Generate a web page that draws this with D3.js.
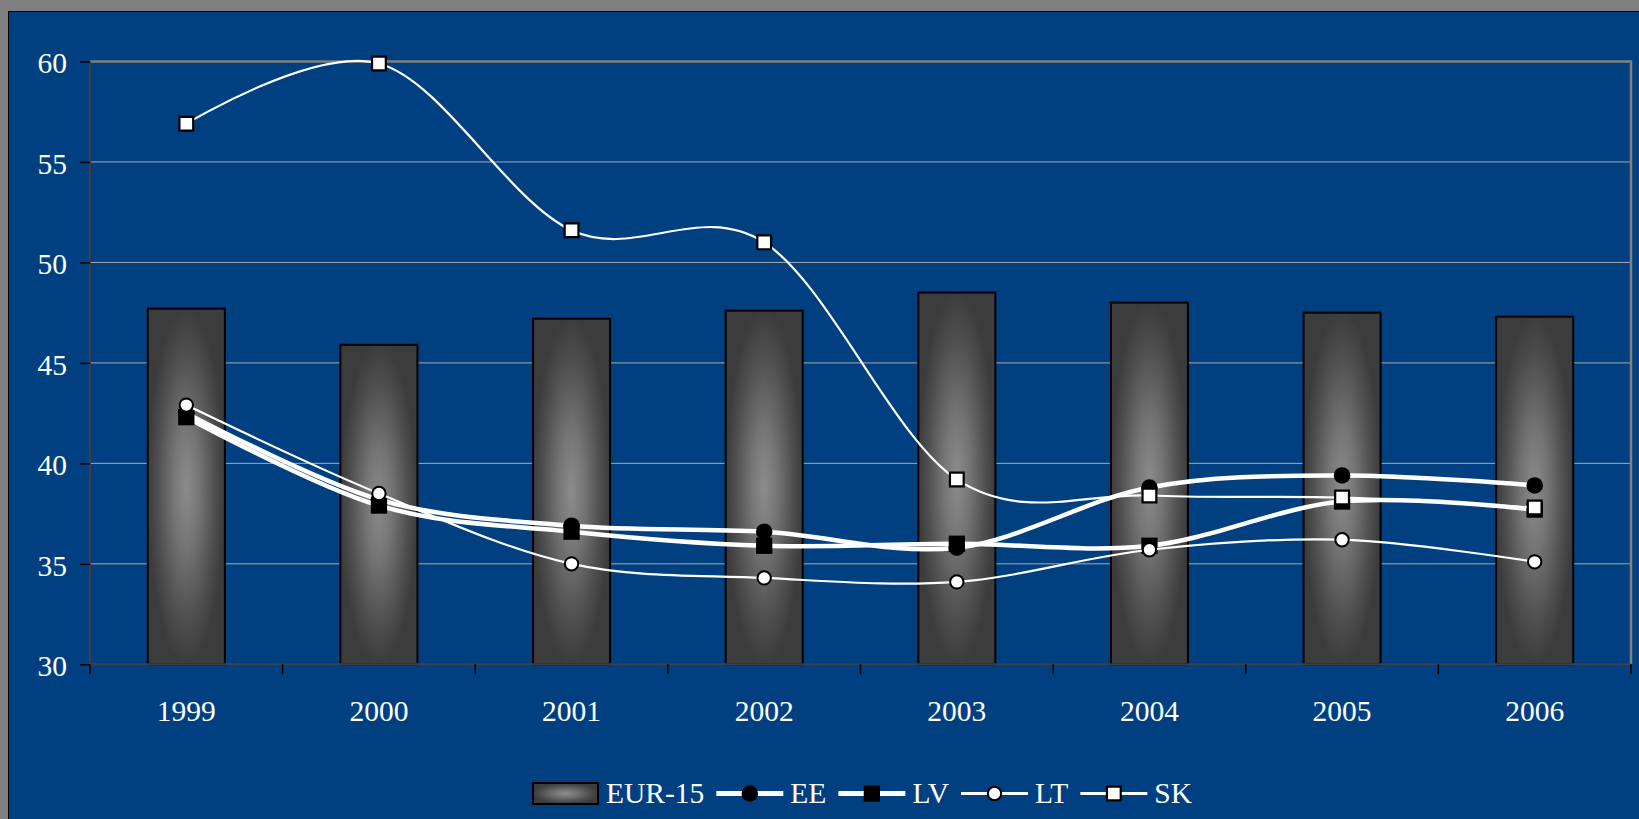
<!DOCTYPE html>
<html>
<head>
<meta charset="utf-8">
<script src="https://cdn.jsdelivr.net/npm/d3@7"></script>
<style>
  html, body { margin: 0; padding: 0; background: #808080; overflow: hidden; }
  text { font-family: "Liberation Serif", "Times New Roman", serif; fill: #fff; }
</style>
</head>
<body>
<svg id="chart" width="1639" height="819"></svg>
<script>
// Years on the category axis
const years = ["1999", "2000", "2001", "2002", "2003", "2004", "2005", "2006"];
// EUR-15 average (bars)
const eur15 = [47.7, 45.9, 47.2, 47.6, 48.5, 48.0, 47.5, 47.3];
// Country series (lines)
const ee = [42.5, 38.2, 36.9, 36.6, 35.8, 38.8, 39.4, 38.9];
const lv = [42.3, 37.9, 36.6, 35.9, 36.0, 35.9, 38.1, 37.7];
const lt = [42.9, 38.5, 35.0, 34.3, 34.1, 35.7, 36.2, 35.1];
const sk = [56.9, 59.9, 51.6, 51.0, 39.2, 38.4, 38.3, 37.8];
// Value axis ticks
const yTicks = [30, 35, 40, 45, 50, 55, 60];

const W = 1639, H = 819;
const FONT = 29.5;
const svg = d3.select("#chart");

// Slide background and blue chart panel
svg.append("rect").attr("width", W).attr("height", H).attr("fill", "#808080");
svg.append("rect")
  .attr("x", 8.5).attr("y", 11.5).attr("width", W).attr("height", H)
  .attr("fill", "#004080").attr("stroke", "#000").attr("stroke-width", 1);

const plot = { left: 90, top: 61.5, right: 1631, bottom: 664.3 };

const x = d3.scaleBand().domain(years)
  .range([plot.left, plot.right])
  .paddingInner(0.6).paddingOuter(0.3);
const y = d3.scaleLinear().domain([30, 60]).range([plot.bottom, plot.top]);

// Bar fill: light centre fading to dark edges
const defs = svg.append("defs");
const rg = defs.append("radialGradient").attr("id", "barShade")
  .attr("cx", 0.5).attr("cy", 0.5).attr("r", 0.5);
rg.append("stop").attr("offset", 0).attr("stop-color", "#8c8c8c");
rg.append("stop").attr("offset", 0.35).attr("stop-color", "#747474");
rg.append("stop").attr("offset", 0.75).attr("stop-color", "#4f4f4f");
rg.append("stop").attr("offset", 1).attr("stop-color", "#3c3c3c");

function shadedRect(g, x0, y0, w, h, sw) {
  g.append("rect").attr("x", x0).attr("y", y0).attr("width", w).attr("height", h)
    .attr("fill", "url(#barShade)")
    .attr("stroke", "#000").attr("stroke-width", sw);
}

// Gridlines
svg.append("g").selectAll("line")
  .data(yTicks.filter(t => t > 30 && t < 60))
  .join("line")
  .attr("x1", plot.left).attr("x2", plot.right)
  .attr("y1", d => y(d)).attr("y2", d => y(d))
  .attr("stroke", "#a8a8a8").attr("stroke-width", 1);

// Plot frame (top and right)
svg.append("path")
  .attr("d", `M${plot.left},${y(60)}H${plot.right}V${plot.bottom}`)
  .attr("fill", "none").attr("stroke", "#808080").attr("stroke-width", 2.5);

// Bars
const barG = svg.append("g");
eur15.forEach((v, i) => {
  shadedRect(barG, x(years[i]), y(v), x.bandwidth(), y(30) - y(v), 2);
});

// Value axis
const yAxis = svg.append("g")
  .attr("transform", `translate(${plot.left},0)`)
  .call(d3.axisLeft(y).tickValues(yTicks).tickSize(10).tickPadding(13).tickFormat(d3.format("d")));
yAxis.select(".domain").attr("stroke", "#404040").attr("stroke-width", 2)
  .attr("d", `M0,${y(60)}V${plot.bottom + 10}`);
yAxis.selectAll(".tick line").attr("stroke", "#000").attr("stroke-width", 1.5);
yAxis.selectAll(".tick text")
  .attr("font-size", FONT).attr("fill", "#fff").attr("dy", "0.38em")
  .style("font-family", "'Liberation Serif', serif");

// Category axis
const xAxis = svg.append("g")
  .attr("transform", `translate(0,${plot.bottom})`)
  .call(d3.axisBottom(x).tickSize(0).tickPadding(36));
xAxis.select(".domain").attr("stroke", "#404040").attr("stroke-width", 2)
  .attr("d", `M${plot.left},0H${plot.right}`);
xAxis.selectAll(".tick text")
  .attr("font-size", FONT).attr("fill", "#fff")
  .style("font-family", "'Liberation Serif', serif");
// Tick marks sit between categories
xAxis.append("g").selectAll("line")
  .data(d3.range(years.length + 1))
  .join("line")
  .attr("x1", i => plot.left + i * x.step()).attr("x2", i => plot.left + i * x.step())
  .attr("y1", 0).attr("y2", 10)
  .attr("stroke", "#000").attr("stroke-width", 1.5);

// Line series
const series = [
  { name: "EE", values: ee, width: 4.5, legWidth: 5, shape: d3.symbolCircle, size: 215, fill: "#000", stroke: "none", sw: 0 },
  { name: "LV", values: lv, width: 4.5, legWidth: 5, shape: d3.symbolSquare, size: 265, fill: "#000", stroke: "none", sw: 0 },
  { name: "LT", values: lt, width: 2.2, legWidth: 2.8, shape: d3.symbolCircle, size: 140, fill: "#fff", stroke: "#000", sw: 2 },
  { name: "SK", values: sk, width: 2.2, legWidth: 2.8, shape: d3.symbolSquare, size: 190, fill: "#fff", stroke: "#000", sw: 2.2 }
];

const cx = i => x(years[i]) + x.bandwidth() / 2;
const line = d3.line()
  .x((d, i) => cx(i))
  .y(d => y(d))
  .curve(d3.curveCardinal.tension(0));

series.forEach(s => {
  const g = svg.append("g");
  g.append("path").datum(s.values)
    .attr("d", line)
    .attr("fill", "none").attr("stroke", "#fff")
    .attr("stroke-width", s.width).attr("stroke-linejoin", "round");
  g.selectAll("path.marker").data(s.values).join("path")
    .attr("class", "marker")
    .attr("transform", (d, i) => `translate(${cx(i)},${y(d)})`)
    .attr("d", d3.symbol(s.shape, s.size))
    .attr("fill", s.fill).attr("stroke", s.stroke).attr("stroke-width", s.sw);
});

// Legend
const legY = 793.5;
const legend = svg.append("g");
let lx = 533;
function legendText(label) {
  const t = legend.append("text")
    .attr("x", lx).attr("y", legY + 9.5)
    .attr("font-size", FONT).text(label);
  lx += t.node().getComputedTextLength();
}
shadedRect(legend, lx, legY - 10.5, 65, 21, 2);
lx += 73;
legendText("EUR-15");
series.forEach(s => {
  lx += 12;
  legend.append("line")
    .attr("x1", lx).attr("x2", lx + 67).attr("y1", legY).attr("y2", legY)
    .attr("stroke", "#fff").attr("stroke-width", s.legWidth);
  legend.append("path")
    .attr("transform", `translate(${lx + 33.5},${legY})`)
    .attr("d", d3.symbol(s.shape, s.size))
    .attr("fill", s.fill).attr("stroke", s.stroke).attr("stroke-width", s.sw);
  lx += 74;
  legendText(s.name);
});
</script>
</body>
</html>
